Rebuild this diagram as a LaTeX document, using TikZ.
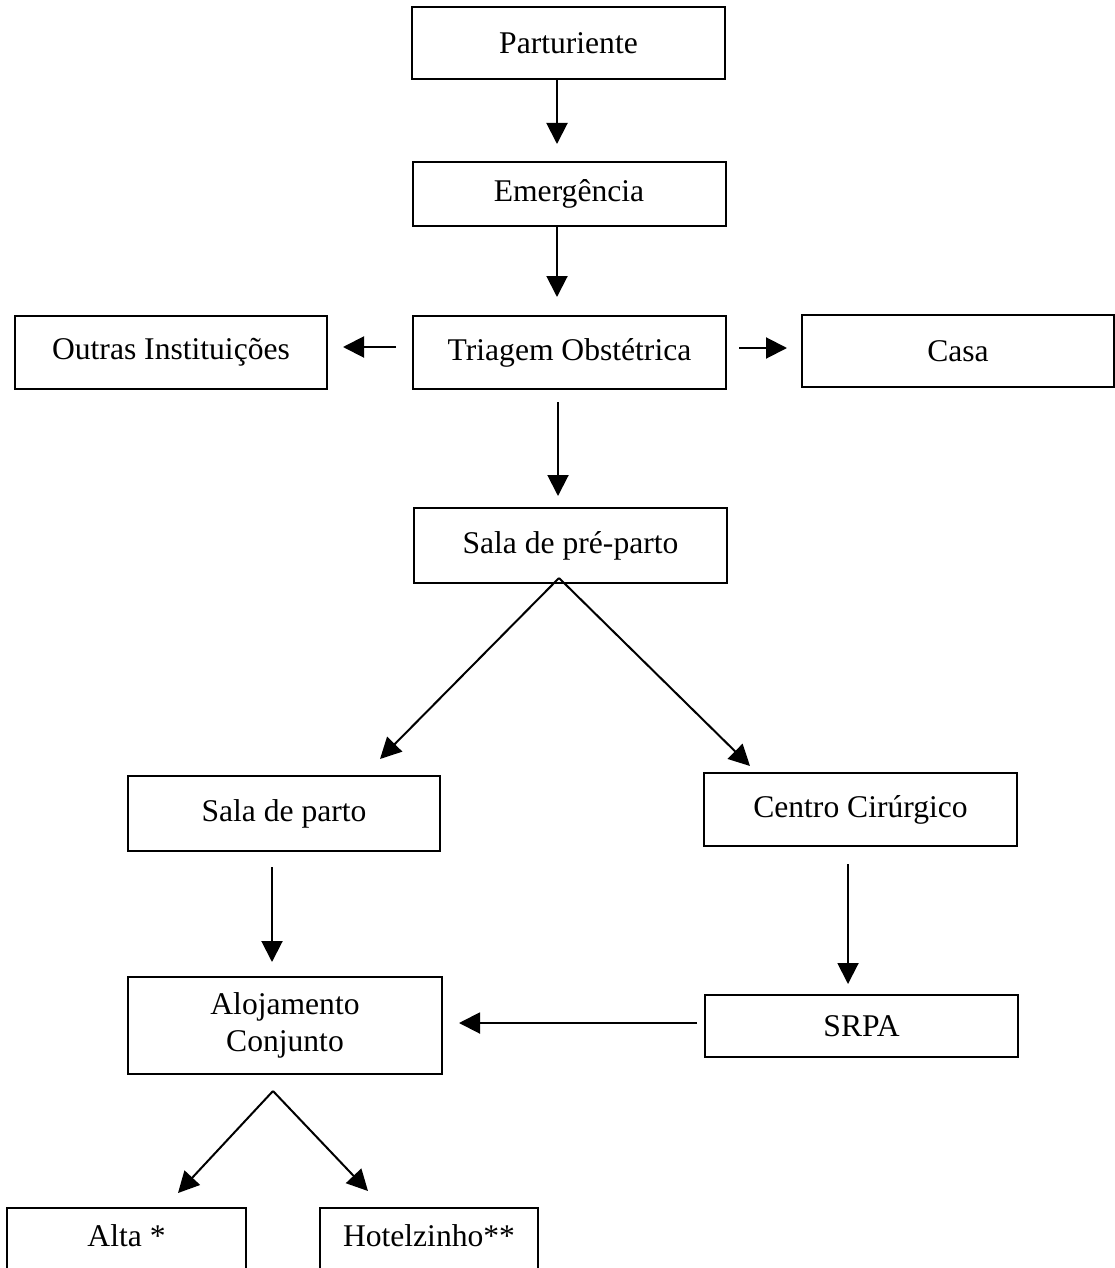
\documentclass[tikz,border=0pt]{standalone}
\usepackage{fontspec}
\setmainfont{Liberation Serif}
\usetikzlibrary{arrows.meta}
\begin{document}
\begin{tikzpicture}[x=1pt,y=-1pt,
  box/.style={draw, line width=2pt, rectangle, inner sep=0pt, align=center,
    font=\fontsize{31.6}{37}\selectfont},
  openbox/.style={draw, line width=2pt, rectangle, inner sep=0pt,
    text height=38pt, text depth=80pt, font=\fontsize{31.6}{37}\selectfont},
  arr/.style={-{Triangle[length=21pt,width=21pt]}, line width=2pt}]
\clip (0,0) rectangle (1115,1268);
\fill[white] (0,0) rectangle (1115,1268);
\node[box, minimum width=313pt, minimum height=72pt] (part) at (568.5,43) {Parturiente};
\node[box, minimum width=313pt, minimum height=64pt] (emer) at (569,194) {Emergência};
\node[box, minimum width=313pt, minimum height=73pt] (triag) at (569.5,352.5) {Triagem Obstétrica};
\node[box, minimum width=312pt, minimum height=73pt] (outras) at (171,352.5) {Outras Instituições};
\node[box, minimum width=312pt, minimum height=72pt] (casa) at (958,351) {Casa};
\node[box, minimum width=313pt, minimum height=75pt] (pre) at (570.5,545.5) {Sala de pré-parto};
\node[box, minimum width=312pt, minimum height=75pt] (sparto) at (284,813.5) {Sala de parto};
\node[box, minimum width=313pt, minimum height=73pt] (centro) at (860.5,809.5) {Centro Cirúrgico};
\node[box, minimum width=314pt, minimum height=97pt] (aloj) at (285,1025.5) {Alojamento\\Conjunto};
\node[box, minimum width=313pt, minimum height=62pt] (srpa) at (861.5,1026) {SRPA};
\node[openbox, minimum width=239pt, anchor=north] (alta) at (126.5,1207) {Alta *};
\node[openbox, minimum width=218pt, anchor=north] (hotel) at (429,1207) {Hotelzinho**};
% vertical arrows
\draw[arr, shorten >=17pt] ([xshift=-11.5pt]part.south) -- ([xshift=-12pt]emer.north);
\draw[arr, shorten >=18pt] ([xshift=-12pt]emer.south) -- ([xshift=-12.5pt]triag.north);
\draw[arr, shorten <=12pt, shorten >=11pt] ([xshift=-11.5pt]triag.south) -- ([xshift=-12.5pt]pre.north);
% horizontal arrows from triage
\draw[arr, shorten <=16pt, shorten >=15pt] ([yshift=5.5pt]triag.west) -- ([yshift=5.5pt]outras.east);
\draw[arr, shorten <=12pt, shorten >=14pt] ([yshift=4.5pt]triag.east) -- ([yshift=3pt]casa.west);
% diagonal arrows from pre-parto
\coordinate (apexA) at ([xshift=-11.5pt,yshift=6pt]pre.south);
\draw[arr] (apexA) -- ([xshift=96pt,yshift=16pt]sparto.north);
\draw[arr] (apexA) -- ([xshift=47pt,yshift=6pt]centro.north west);
% lower vertical arrows
\draw[arr, shorten <=15pt, shorten >=14pt] ([xshift=-12pt]sparto.south) -- ([xshift=-13pt]aloj.north);
\draw[arr, shorten <=17pt, shorten >=10pt] ([xshift=-12.5pt]centro.south) -- ([xshift=-13.5pt]srpa.north);
% SRPA to alojamento
\draw[arr, shorten <=7pt, shorten >=16pt] ([yshift=3pt]srpa.west) -- ([yshift=2.5pt]aloj.east);
% diagonal arrows from alojamento
\coordinate (apexB) at ([xshift=-12pt,yshift=-16pt]aloj.south);
\draw[arr] (apexB) -- ([xshift=51.5pt,yshift=14pt]alta.north);
\draw[arr] (apexB) -- ([xshift=-61pt,yshift=16pt]hotel.north);
\end{tikzpicture}
\end{document}
